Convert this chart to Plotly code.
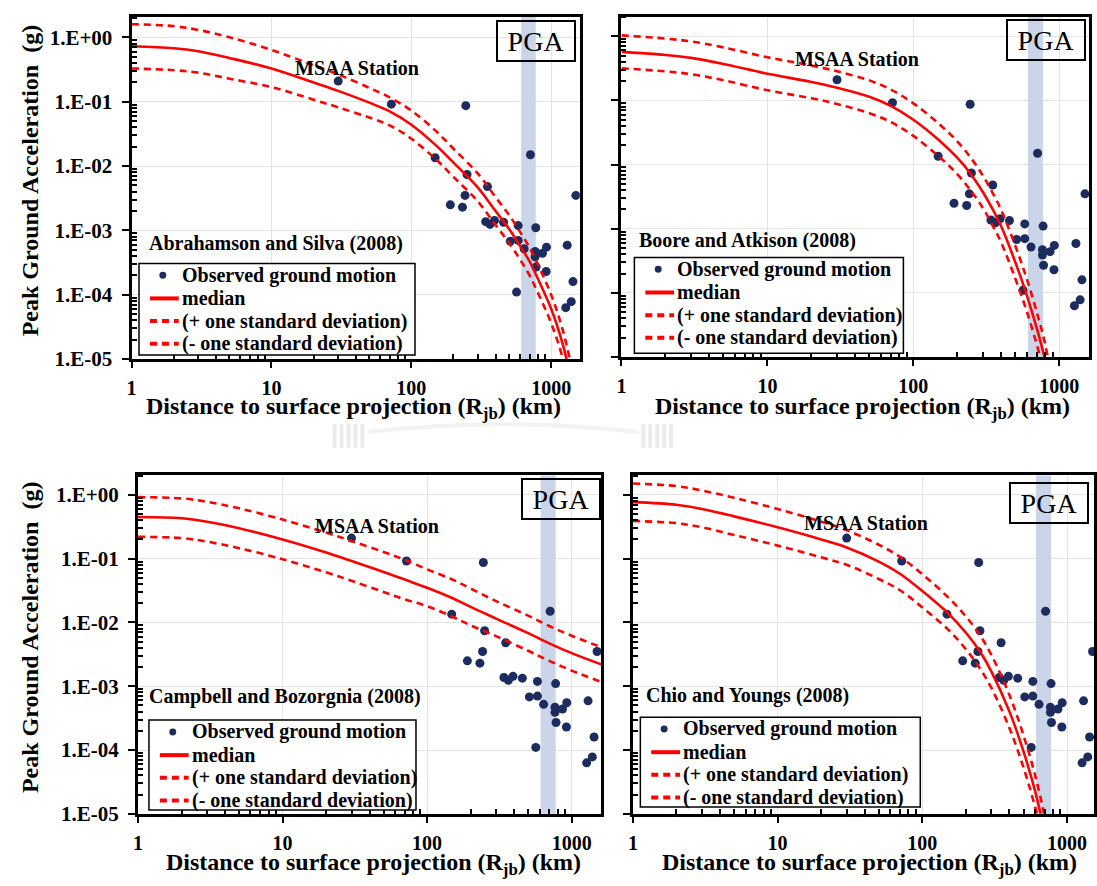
import plotly.graph_objects as go

W, H = 1097, 886
FONT = "Liberation Serif"

# ---- observed ground motion (Rjb in km, PGA in g) ----
obs_rjb = [30, 72, 245, 710, 148, 250, 350, 242, 190, 232, 1500, 340, 365, 393, 456,
           580, 775, 510, 580, 640, 767, 865, 925, 767, 780, 920, 1300, 1430, 1390, 1270, 565]
obs_pga = [0.21, 0.092, 0.087, 0.0150, 0.0135, 0.0074, 0.0048, 0.0035, 0.0025, 0.0023,
           0.0035, 0.00137, 0.00124, 0.00143, 0.00134, 0.00119, 0.00110, 0.00068, 0.00070,
           0.00052, 0.00047, 0.00044, 0.00055, 0.00039, 0.00027, 0.00023, 0.00059, 0.00016,
           7.8e-5, 6.3e-5, 1.1e-4]

# ---- Abrahamson and Silva (2008) ----
as_rjb = [1, 2, 3, 5, 10, 20, 30, 50, 70, 100, 150, 200, 300, 400, 500, 600, 700, 800, 1000, 1200, 1400]
as_med = [0.73, 0.68, 0.61, 0.48, 0.33, 0.20, 0.148, 0.097, 0.071, 0.044, 0.021, 0.0113, 0.0046,
          0.0020, 0.00105, 5.7e-4, 3.3e-4, 1.8e-4, 6.0e-5, 1.8e-5, 4.5e-6]
as_up = [1.61, 1.50, 1.31, 1.01, 0.64, 0.37, 0.266, 0.165, 0.117, 0.073, 0.035, 0.0186, 0.0076,
         0.0033, 0.00173, 9.4e-4, 5.4e-4, 3.0e-4, 9.9e-5, 3.0e-5, 7.4e-6]
as_lo = [0.33, 0.31, 0.284, 0.229, 0.169, 0.108, 0.082, 0.057, 0.043, 0.0267, 0.0127, 0.0068,
         0.0028, 0.00121, 6.4e-4, 3.5e-4, 2.0e-4, 1.09e-4, 3.6e-5, 1.09e-5, 2.7e-6]

# ---- Boore and Atkinson (2008) ----
ba_rjb = [1, 2, 3, 5, 10, 20, 30, 50, 70, 100, 150, 200, 250, 300, 350, 400, 500, 600, 700, 800, 900]
ba_med = [0.57, 0.51, 0.46, 0.37, 0.26, 0.194, 0.158, 0.114, 0.082, 0.050, 0.024, 0.0128, 0.0069,
          0.0037, 0.0020, 0.00109, 3.0e-4, 9.1e-5, 2.86e-5, 9e-6, 2e-6]
ba_up = [1.03, 0.92, 0.83, 0.67, 0.47, 0.35, 0.284, 0.205, 0.148, 0.090, 0.043, 0.023, 0.0124,
         0.0067, 0.0036, 0.00196, 5.4e-4, 1.64e-4, 5.1e-5, 1.6e-5, 3.6e-6]
ba_lo = [0.317, 0.283, 0.256, 0.206, 0.144, 0.108, 0.088, 0.063, 0.046, 0.028, 0.0133, 0.0071,
         0.0038, 0.0021, 0.00111, 6.1e-4, 1.67e-4, 5.1e-5, 1.59e-5, 5e-6, 1.1e-6]

# ---- Campbell and Bozorgnia (2008) ----
cb_rjb = [1, 2, 3, 5, 10, 20, 30, 50, 70, 100, 150, 200, 300, 500, 700, 1000, 1600]
cb_med = [0.45, 0.43, 0.38, 0.30, 0.20, 0.125, 0.092, 0.062, 0.047, 0.035, 0.024, 0.0175,
          0.0115, 0.0068, 0.0047, 0.0033, 0.0022]
cb_up = [0.92, 0.88, 0.78, 0.615, 0.41, 0.256, 0.189, 0.127, 0.096, 0.068, 0.047, 0.034,
         0.0216, 0.0128, 0.0088, 0.0062, 0.0041]
cb_lo = [0.22, 0.21, 0.185, 0.146, 0.098, 0.061, 0.045, 0.030, 0.023, 0.018, 0.0123, 0.0090,
         0.0061, 0.0036, 0.0025, 0.00176, 0.00117]

# ---- Chiou and Youngs (2008) ----
cy_rjb = [1, 2, 3, 5, 10, 20, 30, 50, 70, 100, 150, 200, 250, 300, 400, 500, 600, 700, 800]
cy_med = [0.77, 0.70, 0.60, 0.46, 0.31, 0.20, 0.15, 0.090, 0.058, 0.031, 0.014, 0.0069,
          0.0035, 0.0017, 4.0e-4, 9.5e-5, 2.3e-5, 5e-6, 8e-7]
cy_up = [1.51, 1.37, 1.17, 0.90, 0.60, 0.38, 0.28, 0.165, 0.107, 0.057, 0.025, 0.0124,
         0.0063, 0.0031, 7.2e-4, 1.7e-4, 4.1e-5, 9e-6, 1.5e-6]
cy_lo = [0.39, 0.36, 0.31, 0.235, 0.16, 0.105, 0.080, 0.048, 0.032, 0.0172, 0.0078, 0.0038,
         0.0019, 9.4e-4, 2.2e-4, 5.3e-5, 1.3e-5, 2.8e-6, 4e-7]

# distance range shaded on every panel (km)
band_rjb = [610, 775]

x_tickvals = [1, 10, 100, 1000]
x_ticktext = ["1", "10", "100", "1000"]
y_tickvals = [1, 1e-1, 1e-2, 1e-3, 1e-4, 1e-5]
y_ticktext = ["1.E+00", "1.E-01", "1.E-02", "1.E-03", "1.E-04", "1.E-05"]

model_names = ["Abrahamson and Silva (2008)", "Boore and Atkison (2008)",
               "Campbell and Bozorgnia (2008)", "Chio and Youngs (2008)"]
models = [(as_rjb, as_med, as_up, as_lo), (ba_rjb, ba_med, ba_up, ba_lo),
          (cb_rjb, cb_med, cb_up, cb_lo), (cy_rjb, cy_med, cy_up, cy_lo)]
legend_labels = ["Observed ground motion", "median",
                 "(+ one standard deviation)", "(- one standard deviation)"]

# panel geometry in pixels: plot box (left, right, top, bottom), axis ranges (log10),
# text anchors and legend box (left, top, right, bottom)
panels = [
    dict(box=(127.5, 579, 17, 364), xr=(0, 3.204), yr=(-5, 0.322), ylab=True,
         pga=(535, 42), msaa=(355, 69), name=(273, 247), leg=(135, 267, 413, 360),
         ytitle=(25, 183), xtitle=(351, 414)),
    dict(box=(621, 1092, 17, 362), xr=(0, 3.204), yr=(-5, 0.303), ylab=False,
         pga=(1049, 41), msaa=(858, 60), name=(748, 244), leg=(634, 261, 905, 358),
         ytitle=None, xtitle=(864, 414)),
    dict(box=(134, 600.5, 482, 825), xr=(0, 3.204), yr=(-5, 0.304), ylab=True,
         pga=(560, 506), msaa=(375, 533), name=(282, 706), leg=(145, 730, 414, 821),
         ytitle=(25, 646), xtitle=(371, 876)),
    dict(box=(632.5, 1097, 482, 825), xr=(0, 3.186), yr=(-5, 0.304), ylab=False,
         pga=(1052, 510), msaa=(867, 530), name=(748, 705), leg=(640, 727, 922, 818),
         ytitle=None, xtitle=(871, 876)),
]

RED = "#ff0000"
NAVY = "#1c2c5e"
BAND = "#cbd5ea"
GRID = "#e4e4e4"
DASH = "7px,5px"

minor_x = [m * 10 ** e for e in range(0, 4) for m in range(2, 10)]
minor_y = [m * 10.0 ** e for e in range(-5, 1) for m in range(2, 10)]

fig = go.Figure()
layout = dict(width=W, height=H, margin=dict(l=0, r=0, t=0, b=0), showlegend=False,
              paper_bgcolor="white", plot_bgcolor="white", annotations=[], shapes=[])


def fx(v):
    return v / W


def fy(v):
    return 1 - v / H


def bold(size):
    return dict(family=FONT, size=size, color="black", weight="bold")


for i, (p, (rjb, med, up, lo), name) in enumerate(zip(panels, models, model_names), start=1):
    sfx = "" if i == 1 else str(i)
    xa, ya = "x" + sfx, "y" + sfx
    l, r, t, b = p["box"]

    # shaded distance band
    fig.add_trace(go.Scatter(
        x=[band_rjb[0], band_rjb[1], band_rjb[1], band_rjb[0]],
        y=[1e-7, 1e-7, 10, 10], fill="toself", fillcolor=BAND, mode="none",
        hoverinfo="skip", xaxis=xa, yaxis=ya))

    fig.add_trace(go.Scatter(
        x=obs_rjb, y=obs_pga, mode="markers", name=legend_labels[0],
        marker=dict(color=NAVY, size=9), xaxis=xa, yaxis=ya))
    fig.add_trace(go.Scatter(
        x=rjb, y=med, mode="lines", name=legend_labels[1],
        line=dict(color=RED, width=2.6, shape="spline", smoothing=1.0),
        xaxis=xa, yaxis=ya))
    fig.add_trace(go.Scatter(
        x=rjb, y=up, mode="lines", name=legend_labels[2],
        line=dict(color=RED, width=2.6, dash=DASH, shape="spline", smoothing=1.0),
        xaxis=xa, yaxis=ya))
    fig.add_trace(go.Scatter(
        x=rjb, y=lo, mode="lines", name=legend_labels[3],
        line=dict(color=RED, width=2.6, dash=DASH, shape="spline", smoothing=1.0),
        xaxis=xa, yaxis=ya))

    layout["xaxis" + sfx] = dict(
        type="log", domain=[fx(l), fx(r)], range=list(p["xr"]), anchor=ya,
        tickmode="array", tickvals=x_tickvals, ticktext=x_ticktext,
        ticks="outside", ticklen=6, tickwidth=2, tickcolor="black",
        showline=True, linewidth=3, linecolor="black", mirror=True,
        showgrid=True, gridcolor=GRID, gridwidth=1, zeroline=False,
        minor=dict(tickmode="array", tickvals=minor_x, ticks="inside", ticklen=5,
                   tickwidth=1.5, tickcolor="black", showgrid=False),
        tickfont=bold(20), ticklabelstandoff=3)
    layout["yaxis" + sfx] = dict(
        type="log", domain=[fy(b), fy(t)], range=list(p["yr"]), anchor=xa,
        tickmode="array", tickvals=y_tickvals, ticktext=y_ticktext,
        showticklabels=p["ylab"],
        ticks="outside", ticklen=7, tickwidth=2, tickcolor="black",
        showline=True, linewidth=3, linecolor="black", mirror=True,
        showgrid=True, gridcolor=GRID, gridwidth=1, zeroline=False,
        minor=dict(tickmode="array", tickvals=minor_y, ticks="inside", ticklen=5,
                   tickwidth=1.5, tickcolor="black", showgrid=False),
        tickfont=bold(21), ticklabelstandoff=5)

    ann = layout["annotations"]
    shp = layout["shapes"]

    # legend box with its keys
    ll, lt, lr, lb = p["leg"]
    shp.append(dict(type="rect", xref="paper", yref="paper", x0=fx(ll), x1=fx(lr),
                    y0=fy(lb), y1=fy(lt), fillcolor="white",
                    line=dict(color="black", width=1.5)))
    rows = [lt + 12, lt + 35.5, lt + 58.5, lt + 81.5]
    shp.append(dict(type="circle", xref="paper", yref="paper",
                    x0=fx(ll + 20.5), x1=fx(ll + 27.5), y0=fy(rows[0] + 3.5), y1=fy(rows[0] - 3.5),
                    fillcolor=NAVY, line=dict(color=NAVY, width=0)))
    for k, dash in ((1, "solid"), (2, DASH), (3, DASH)):
        shp.append(dict(type="line", xref="paper", yref="paper",
                        x0=fx(ll + 11), x1=fx(ll + 40), y0=fy(rows[k]), y1=fy(rows[k]),
                        line=dict(color=RED, width=4, dash=dash)))
    for k, lab in enumerate(legend_labels):
        ann.append(dict(xref="paper", yref="paper", x=fx(ll + 41), y=fy(rows[k]),
                        text=lab, showarrow=False, xanchor="left", yanchor="middle",
                        font=bold(20)))

    ann.append(dict(xref="paper", yref="paper", x=fx(p["pga"][0]), y=fy(p["pga"][1]),
                    text="PGA", showarrow=False, xanchor="center", yanchor="middle",
                    font=dict(family=FONT, size=28, color="black"),
                    bordercolor="black", borderwidth=2, borderpad=1, width=74, height=36))
    ann.append(dict(xref="paper", yref="paper", x=fx(p["msaa"][0]), y=fy(p["msaa"][1]),
                    text="MSAA Station", showarrow=False, xanchor="center", yanchor="middle",
                    font=bold(20)))
    ann.append(dict(xref="paper", yref="paper", x=fx(p["name"][0]), y=fy(p["name"][1]),
                    text=name, showarrow=False, xanchor="center", yanchor="middle",
                    font=bold(20)))
    ann.append(dict(xref="paper", yref="paper", x=fx(p["xtitle"][0]), y=fy(p["xtitle"][1]),
                    text="Distance to surface projection (R<sub>jb</sub>) (km)",
                    showarrow=False, xanchor="center", yanchor="middle", font=bold(24)))
    if p["ytitle"]:
        ann.append(dict(xref="paper", yref="paper", x=fx(p["ytitle"][0]), y=fy(p["ytitle"][1]),
                        text="Peak Ground Acceleration  (g)", textangle=-90, showarrow=False,
                        xanchor="center", yanchor="middle", font=bold(24)))

# faint page marks between the two rows of panels
shp = layout["shapes"]
for x0 in (330, 641):
    for k in range(5):
        shp.append(dict(type="rect", xref="paper", yref="paper",
                        x0=fx(x0 + k * 7), x1=fx(x0 + k * 7 + 4), y0=fy(454), y1=fy(430),
                        fillcolor="#ebebeb", line=dict(width=0), layer="below"))
shp.append(dict(type="path", xref="paper", yref="paper",
                path=f"M {fx(365)},{fy(438)} Q {fx(500)},{fy(422)} {fx(638)},{fy(438)}",
                line=dict(color="#f2f2f2", width=4), layer="below"))

fig.update_layout(**layout)
fig.write_html("out.html")
